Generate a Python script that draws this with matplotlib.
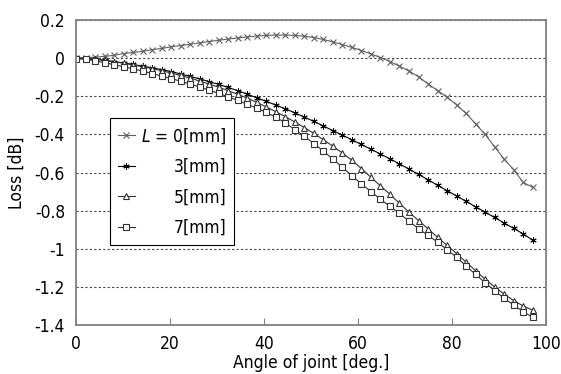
import numpy as np
import matplotlib
matplotlib.use("Agg")
import matplotlib.pyplot as plt
from matplotlib import font_manager as fm

# angle of joint [deg.] - 49 samples, ~2.025 deg apart
angles = np.arange(49) * 2.025

loss_L0 = [0.0, 0.002, 0.005, 0.009, 0.015, 0.024, 0.030, 0.036, 0.044, 0.051,
           0.059, 0.066, 0.073, 0.080, 0.087, 0.094, 0.100, 0.106, 0.111, 0.116,
           0.119, 0.121, 0.121, 0.119, 0.115, 0.108, 0.098, 0.085, 0.071, 0.056,
           0.040, 0.022, 0.003, -0.018, -0.042, -0.068, -0.098, -0.135, -0.17, -0.205,
           -0.245, -0.29, -0.345, -0.40, -0.465, -0.53, -0.585, -0.652, -0.678]

loss_L3 = [0.0, -0.002, -0.006, -0.011, -0.018, -0.025, -0.033, -0.042, -0.051, -0.060,
           -0.071, -0.083, -0.096, -0.109, -0.123, -0.138, -0.154, -0.171, -0.189, -0.208,
           -0.227, -0.246, -0.266, -0.287, -0.309, -0.332, -0.356, -0.380, -0.404, -0.428,
           -0.453, -0.478, -0.503, -0.528, -0.555, -0.582, -0.610, -0.638, -0.667, -0.695,
           -0.723, -0.751, -0.780, -0.808, -0.836, -0.865, -0.893, -0.922, -0.955]

loss_L5 = [0.0, -0.002, -0.006, -0.012, -0.019, -0.027, -0.036, -0.045, -0.055, -0.066,
           -0.078, -0.091, -0.105, -0.120, -0.136, -0.153, -0.171, -0.190, -0.210, -0.232,
           -0.256, -0.281, -0.307, -0.335, -0.364, -0.395, -0.428, -0.462, -0.498, -0.536,
           -0.58, -0.625, -0.67, -0.715, -0.762, -0.808, -0.852, -0.895, -0.94, -0.982,
           -1.025, -1.07, -1.115, -1.16, -1.2, -1.238, -1.272, -1.30, -1.322]

loss_L7 = [-0.003, -0.006, -0.014, -0.024, -0.034, -0.045, -0.056, -0.068, -0.081, -0.094,
           -0.107, -0.121, -0.136, -0.152, -0.168, -0.185, -0.203, -0.222, -0.242, -0.263,
           -0.285, -0.31, -0.34, -0.375, -0.41, -0.448, -0.488, -0.53, -0.573, -0.617,
           -0.66, -0.70, -0.74, -0.778, -0.815, -0.855, -0.895, -0.93, -0.965, -1.005,
           -1.045, -1.09, -1.135, -1.178, -1.22, -1.26, -1.295, -1.33, -1.36]

labels = ["$L$ = 0[mm]", "3[mm]", "5[mm]", "7[mm]"]
xticks = [0, 20, 40, 60, 80, 100]
yticks = [0.2, 0, -0.2, -0.4, -0.6, -0.8, -1, -1.2, -1.4]

# narrow font if available, otherwise condensed DejaVu
names = set(f.name for f in fm.fontManager.ttflist)
if 'Liberation Sans Narrow' in names:
    fam = 'Liberation Sans Narrow'
    fs = 14.5
else:
    fam = 'DejaVu Sans'
    fs = 12.5
    plt.rcParams['font.stretch'] = 'condensed'
plt.rcParams['font.family'] = [fam, 'DejaVu Sans']
plt.rcParams['mathtext.fontset'] = 'custom'
plt.rcParams['mathtext.it'] = fam + ':italic'
plt.rcParams['mathtext.rm'] = fam

fig = plt.figure(figsize=(5.61, 3.74), dpi=100)
ax = fig.add_axes([0.1355, 0.131, 0.8375, 0.8155])

ax.plot(angles, loss_L0, color='#606060', lw=0.8, marker='x', ms=4.5, mew=0.8,
        label=labels[0])
ax.plot(angles, loss_L3, color='black', lw=0.8, marker=(6, 2, 0), ms=4.5, mew=0.7,
        label=labels[1])
ax.plot(angles, loss_L5, color='#333333', lw=0.8, marker='^', ms=5, mew=0.8,
        mfc='white', label=labels[2])
ax.plot(angles, loss_L7, color='#333333', lw=0.8, marker='s', ms=5, mew=0.8,
        mfc='white', label=labels[3])

ax.set_xlim(0, 100)
ax.set_ylim(-1.4, 0.2)
ax.set_xticks(xticks)
ax.set_yticks(yticks)
ax.set_yticklabels([('%g' % v) for v in yticks])
ax.tick_params(axis='x', direction='in', length=5, width=0.8, color='#808080',
               labelsize=fs, pad=7)
ax.tick_params(axis='y', length=0, labelsize=fs, pad=8)
ax.yaxis.grid(True, linestyle=(0, (2, 2)), color='#444444', lw=0.8)
ax.set_axisbelow(True)
for s in ax.spines.values():
    s.set_color('#808080')
    s.set_linewidth(1.3)

ax.set_xlabel('Angle of joint [deg.]', fontsize=fs, labelpad=1)
ax.set_ylabel('Loss [dB]', fontsize=fs, labelpad=6)

leg = ax.legend(loc='upper left', bbox_to_anchor=(0.072, 0.678), fontsize=fs,
                frameon=True, fancybox=False, edgecolor='black', framealpha=1,
                handlelength=1.0, borderpad=0.45, labelspacing=0.72,
                handletextpad=0.35, borderaxespad=0)
leg.get_frame().set_linewidth(0.8)

# right-align legend texts (shift each short label by its missing width)
fig.canvas.draw()
renderer = fig.canvas.get_renderer()
widths = [t.get_window_extent(renderer).width for t in leg.get_texts()]
shift = max(widths)
for t, w in zip(leg.get_texts(), widths):
    t.set_position((shift - w, 0))

fig.savefig('out.png', dpi=100)
